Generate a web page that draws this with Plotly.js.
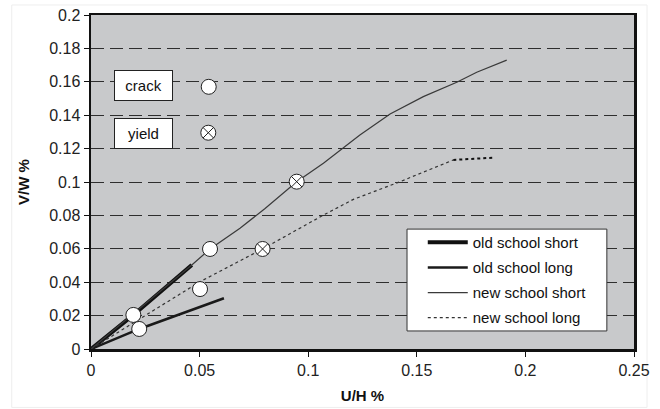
<!DOCTYPE html>
<html><head><meta charset="utf-8">
<script src="https://cdn.plot.ly/plotly-3.0.1.min.js"></script>
<style>html,body{margin:0;padding:0;background:#fff;}#chart{width:660px;height:409px;}</style>
</head><body><div id="chart"></div>
<script>
const oldShortX = [0, 0.0195, 0.0464];
const oldShortY = [0, 0.0204, 0.0503];
const oldLongX = [0, 0.0222, 0.0612];
const oldLongY = [0, 0.0120, 0.0304];
const newShortX = [0, 0.0195, 0.0464, 0.0548, 0.0686, 0.0800, 0.0947, 0.1070, 0.1162, 0.1238, 0.1377, 0.1530, 0.1684, 0.1776, 0.1914];
const newShortY = [0, 0.0210, 0.0503, 0.0599, 0.0723, 0.0840, 0.1002, 0.1112, 0.1202, 0.1281, 0.1407, 0.1511, 0.1597, 0.1657, 0.1730];
const newLongX = [0, 0.0200, 0.0502, 0.0790, 0.1070, 0.1208, 0.1423, 0.1560, 0.1668];
const newLongY = [0, 0.0160, 0.0403, 0.0599, 0.0802, 0.0896, 0.1002, 0.1075, 0.1132];
const newLongEndX = [0.1668, 0.1855];
const newLongEndY = [0.1132, 0.1146];
const crackX = [0.0195, 0.0222, 0.0548, 0.0502, 0.0542];
const crackY = [0.0204, 0.0120, 0.0599, 0.0359, 0.1570];
const yieldX = [0.0947, 0.0790, 0.0540];
const yieldY = [0.1002, 0.0599, 0.1295];
const xTicks = [0, 0.05, 0.1, 0.15, 0.2, 0.25];
const xTickText = ['0', '0.05', '0.1', '0.15', '0.2', '0.25'];
const yTicks = [0, 0.02, 0.04, 0.06, 0.08, 0.1, 0.12, 0.14, 0.16, 0.18, 0.2];
const yTickText = ['0', '0.02', '0.04', '0.06', '0.08', '0.1', '0.12', '0.14', '0.16', '0.18', '0.2'];

const F = 'Liberation Sans, Arial, sans-serif';
const traces = [
  {x: oldShortX, y: oldShortY, mode: 'lines', name: 'old school short', legendgroup: 'a', line: {color: '#111', width: 4}},
  {x: oldLongX, y: oldLongY, mode: 'lines', name: 'old school long', legendgroup: 'b', line: {color: '#1a1a1a', width: 2.5}},
  {x: newShortX, y: newShortY, mode: 'lines', name: 'new school short', legendgroup: 'c', line: {color: '#3a3a3a', width: 1.2}},
  {x: newLongX, y: newLongY, mode: 'lines', name: 'new school long', legendgroup: 'd', line: {color: '#333', width: 1.2, dash: 'dot'}},
  {x: newLongEndX, y: newLongEndY, mode: 'lines', showlegend: false, line: {color: '#111', width: 2, dash: 'dot'}},
  {x: crackX, y: crackY, mode: 'markers', showlegend: false, marker: {symbol: 'circle', size: 15, color: '#fff', line: {color: '#222', width: 1}}},
  {x: yieldX, y: yieldY, mode: 'markers', showlegend: false, marker: {symbol: 'circle-x', size: 15, color: '#fff', line: {color: '#222', width: 1}}}
];
const layout = {
  width: 660, height: 409,
  margin: {l: 91, r: 26, t: 15, b: 60},
  paper_bgcolor: '#fff', plot_bgcolor: '#c8c9cb',
  font: {family: F, size: 15, color: '#111'},
  showlegend: true,
  legend: {x: 0.611, y: 0.368, xanchor: 'left', yanchor: 'top', bgcolor: 'rgba(0,0,0,0)', borderwidth: 0,
           font: {family: F, size: 15, color: '#111'}, tracegroupgap: 2.6, itemwidth: 40},
  xaxis: {range: [0, 0.25], tickvals: xTicks, ticktext: xTickText, showgrid: false, zeroline: false,
          showline: true, linecolor: '#111', linewidth: 2.5, mirror: true, ticks: 'outside', ticklen: 5, tickcolor: '#111',
          tickfont: {family: F, size: 16, color: '#222'},
          title: {text: '<b>U/H %</b>', font: {family: F, size: 15}, standoff: 13}},
  yaxis: {range: [0, 0.2], tickvals: yTicks, ticktext: yTickText, showgrid: true, gridcolor: '#2e2e2e', gridwidth: 1,
          griddash: '13px,6px', zeroline: false,
          showline: true, linecolor: '#111', linewidth: 2.5, mirror: true, ticks: 'outside', ticklen: 5, tickcolor: '#111',
          tickfont: {family: F, size: 16, color: '#222'},
          title: {text: '<b>V/W %</b>', font: {family: F, size: 15}, standoff: 16}},
  annotations: [
    {xref: 'x', yref: 'y', x: 0.0243, y: 0.1579, text: 'crack', showarrow: false, bgcolor: '#fff', bordercolor: '#222', borderwidth: 1,
     width: 55, height: 27, font: {family: F, size: 15, color: '#111'}},
    {xref: 'x', yref: 'y', x: 0.0243, y: 0.1293, text: 'yield', showarrow: false, bgcolor: '#fff', bordercolor: '#222', borderwidth: 1,
     width: 55, height: 27, font: {family: F, size: 15, color: '#111'}}
  ],
  shapes: [
    {type: 'rect', xref: 'paper', yref: 'paper', x0: -0.146, x1: 1.024, y0: -0.175, y1: 1.03, line: {color: '#eee', width: 1}, layer: 'below'},
    {type: 'rect', xref: 'paper', yref: 'paper', x0: 0.582, x1: 0.950, y0: 0.054, y1: 0.359, fillcolor: '#fff', line: {color: '#333', width: 1}, layer: 'above'}
  ]
};
Plotly.newPlot('chart', traces, layout, {displayModeBar: false, staticPlot: true});
</script></body></html>
